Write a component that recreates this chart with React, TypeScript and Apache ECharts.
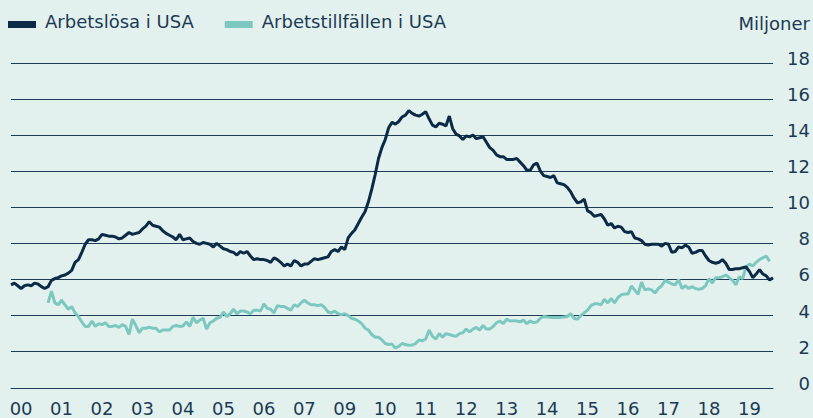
import React, { useEffect, useRef } from "react";
import * as echarts from "echarts";

const yearLabels = ["00", "01", "02", "03", "04", "05", "06", "07", "09", "10", "11", "12", "13", "14", "15", "16", "17", "18", "19"];

const unemployed = [
  5.7, 5.8, 5.65, 5.5, 5.65, 5.7, 5.65, 5.8, 5.75, 5.6, 5.5, 5.6,
  5.95, 6.05, 6.1, 6.2, 6.25, 6.35, 6.5, 6.95, 7.1, 7.5, 7.95, 8.2,
  8.2, 8.15, 8.25, 8.5, 8.45, 8.4, 8.4, 8.35, 8.25, 8.3, 8.45, 8.6,
  8.5, 8.55, 8.6, 8.8, 8.95, 9.2, 9.0, 8.95, 8.9, 8.7, 8.55, 8.45,
  8.35, 8.2, 8.5, 8.2, 8.25, 8.3, 8.1, 8.0, 7.95, 8.05, 8.0, 7.95,
  7.8, 8.0, 7.85, 7.7, 7.65, 7.55, 7.5, 7.35, 7.55, 7.45, 7.55, 7.3,
  7.1, 7.15, 7.1, 7.1, 7.05, 6.95, 7.2, 7.1, 6.95, 6.75, 6.85, 6.75,
  7.05, 6.95, 6.75, 6.85, 6.85, 7.0, 7.15, 7.1, 7.15, 7.2, 7.25, 7.55,
  7.65, 7.55, 7.8, 7.65, 8.3, 8.55, 8.75, 9.1, 9.45, 9.75, 10.3, 11.0,
  11.8, 12.7, 13.3, 13.75, 14.4, 14.7, 14.6, 14.75, 15.0, 15.1, 15.35, 15.2,
  15.1, 15.05, 15.15, 15.3, 14.9, 14.55, 14.45, 14.65, 14.6, 14.5, 15.05, 14.35,
  14.05, 13.95, 13.75, 13.95, 13.9, 14.0, 13.8, 13.85, 13.9, 13.6, 13.3, 13.15,
  12.9, 12.8, 12.8, 12.65, 12.65, 12.65, 12.7, 12.5, 12.3, 12.05, 12.05, 12.35,
  12.45, 12.0, 11.75, 11.7, 11.65, 11.75, 11.35, 11.3, 11.25, 11.1, 10.85, 10.5,
  10.25, 10.3, 10.45, 9.8, 9.7, 9.5, 9.55, 9.6, 9.35, 9.0, 9.1, 8.85,
  8.95, 8.9, 8.65, 8.6, 8.65, 8.3, 8.25, 8.15, 7.95, 7.9, 7.95, 7.95,
  7.95, 7.85, 8.0, 7.95, 7.5, 7.55, 7.8, 7.75, 7.9, 7.8, 7.45, 7.5,
  7.6, 7.6, 7.3, 7.05, 6.95, 6.9, 6.95, 7.1, 6.9, 6.55, 6.55, 6.6,
  6.6, 6.65, 6.7, 6.45, 6.1, 6.3, 6.55, 6.3, 6.2, 5.97, 6.1,
];

const jobOpenings = [
  null, null, null, null, null, null, null, null, null, null, null, 4.7,
  5.35, 4.7, 4.6, 4.85, 4.6, 4.35, 4.5, 4.15, 3.95, 3.65, 3.4, 3.4,
  3.7, 3.4, 3.55, 3.5, 3.6, 3.4, 3.4, 3.45, 3.35, 3.5, 3.4, 2.95,
  3.8, 3.45, 3.05, 3.3, 3.3, 3.35, 3.3, 3.3, 3.1, 3.2, 3.2, 3.2,
  3.4, 3.45, 3.4, 3.42, 3.65, 3.4, 3.9, 3.6, 3.75, 3.85, 3.25, 3.6,
  3.7, 3.85, 3.9, 4.2, 3.95, 4.1, 4.35, 4.1, 4.25, 4.25, 4.2, 4.1,
  4.3, 4.3, 4.25, 4.65, 4.4, 4.35, 4.15, 4.55, 4.5, 4.5, 4.4, 4.3,
  4.6, 4.5, 4.7, 4.85, 4.7, 4.6, 4.6, 4.55, 4.6, 4.45, 4.2, 4.15,
  4.25, 4.1, 4.05, 4.1, 4.0, 3.85, 3.8, 3.7, 3.55, 3.3, 3.2, 2.95,
  2.8, 2.8, 2.65, 2.45, 2.4, 2.42, 2.2, 2.3, 2.45, 2.4, 2.35, 2.37,
  2.45, 2.65, 2.6, 2.7, 3.2, 2.85, 2.7, 3.0, 2.8, 3.0, 2.95, 2.9,
  2.85, 3.0, 3.05, 3.25, 3.1, 3.25, 3.35, 3.2, 3.45, 3.25, 3.25, 3.4,
  3.6, 3.7, 3.55, 3.8, 3.7, 3.72, 3.7, 3.65, 3.75, 3.55, 3.7, 3.6,
  3.65, 3.85, 3.95, 3.92, 3.9, 3.9, 3.9, 3.9, 3.92, 3.95, 4.1, 3.85,
  3.8, 4.0, 4.15, 4.3, 4.55, 4.65, 4.65, 4.6, 4.9, 4.7, 4.95, 4.7,
  5.0, 5.15, 5.2, 5.19, 5.64, 5.41, 5.17, 5.85, 5.42, 5.48, 5.42, 5.25,
  5.5, 5.65, 5.95, 5.85, 5.75, 5.7, 6.0, 5.5, 5.65, 5.5, 5.6, 5.5,
  5.45, 5.5, 5.65, 6.05, 5.8, 6.1, 6.1, 6.15, 6.25, 6.1, 5.95, 5.7,
  6.15, 6.05, 6.7, 6.85, 6.75, 6.95, 7.1, 7.2, 7.3, 7.0, null,
];

const months = unemployed.map((_, i) => {
  const y = 2000 + Math.floor(i / 12);
  const m = (i % 12) + 1;
  return `${y}-${m < 10 ? "0" + m : m}`;
});

const NAVY = "#0b2a45";
const TEAL = "#7cc8bf";
const TEXT = "#1c3a54";
const GRID = "#1f3c55";
const BG = "#e3f1ee";
const FONT = "DejaVu Sans";
// legend marker: a 28x7 bar sitting in the lower part of a 28x14 box
const LEGEND_ICON = "path://M0,0M0,7L28,7L28,14L0,14Z";

export default function App() {
  const ref = useRef<HTMLDivElement>(null);
  useEffect(() => {
    document.body.style.margin = "0";
    const chart = echarts.init(ref.current!, null, { renderer: "svg" });
    chart.setOption({
      animation: false,
      backgroundColor: BG,
      title: {
        text: "Miljoner",
        right: 3,
        top: 14,
        padding: 0,
        textStyle: { fontSize: 18, fontWeight: "normal", color: TEXT, fontFamily: FONT },
      },
      legend: {
        left: 8,
        top: 12,
        padding: 0,
        itemWidth: 28,
        itemHeight: 14,
        itemGap: 31,
        icon: LEGEND_ICON,
        textStyle: { fontSize: 18, color: TEXT, fontFamily: FONT, padding: [0, 0, 0, 4] },
        data: ["Arbetslösa i USA", "Arbetstillfällen i USA"],
      },
      grid: { left: 11, right: 40, top: 62.8, bottom: 30.2, outerBoundsMode: "none" },
      xAxis: {
        type: "category",
        data: months,
        boundaryGap: false,
        axisTick: { show: false },
        axisLine: { show: true, lineStyle: { color: GRID, width: 1 } },
        axisLabel: {
          interval: (idx: number) => idx % 12 === 3,
          formatter: (_v: string, idx: number) => (idx % 12 === 3 ? yearLabels[(idx - 3) / 12] ?? "" : ""),
          fontSize: 18,
          color: TEXT,
          fontFamily: FONT,
          margin: 12,
        },
        splitLine: { show: false },
      },
      yAxis: {
        type: "value",
        position: "right",
        min: 0,
        max: 18,
        interval: 2,
        axisLine: { show: false },
        axisTick: { show: false },
        axisLabel: {
          fontSize: 18,
          color: TEXT,
          fontFamily: FONT,
          align: "right",
          verticalAlign: "bottom",
          lineHeight: 9,
          margin: 37,
        },
        splitLine: { show: true, lineStyle: { color: GRID, width: 1 } },
      },
      series: [
        {
          name: "Arbetslösa i USA",
          type: "line",
          data: unemployed,
          showSymbol: false,
          symbol: "none",
          itemStyle: { color: NAVY, borderWidth: 0 },
          lineStyle: { color: NAVY, width: 3 },
          z: 3,
        },
        {
          name: "Arbetstillfällen i USA",
          type: "line",
          data: jobOpenings,
          showSymbol: false,
          symbol: "none",
          connectNulls: false,
          itemStyle: { color: TEAL, borderWidth: 0 },
          lineStyle: { color: TEAL, width: 3 },
          z: 2,
        },
      ],
    });
    return () => chart.dispose();
  }, []);
  return <div ref={ref} style={{ width: 813, height: 418 }} />;
}
